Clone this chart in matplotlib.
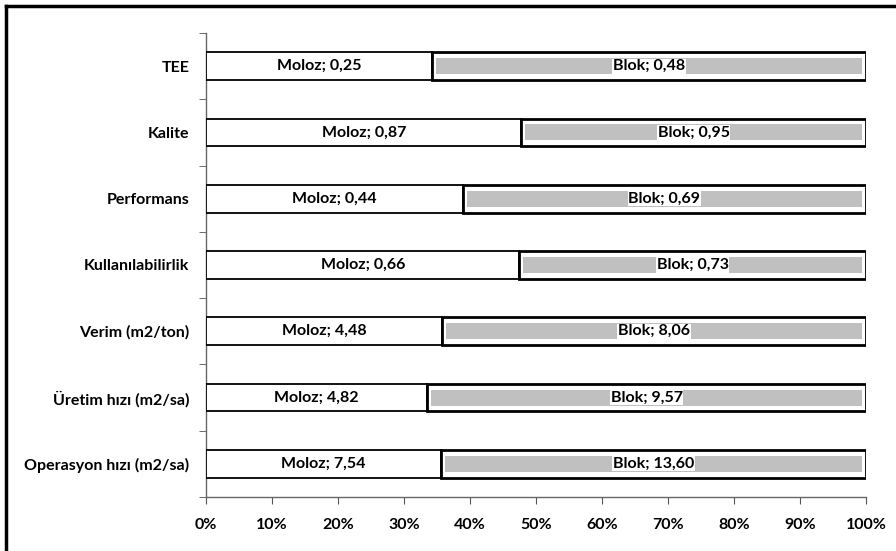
import matplotlib
matplotlib.use("Agg")
import matplotlib.pyplot as plt
from matplotlib.lines import Line2D
import numpy as np

categories = ["TEE", "Kalite", "Performans", "Kullanılabilirlik",
              "Verim (m2/ton)", "Üretim hızı (m2/sa)", "Operasyon hızı (m2/sa)"]
moloz = [0.25, 0.87, 0.44, 0.66, 4.48, 4.82, 7.54]
blok = [0.48, 0.95, 0.69, 0.73, 8.06, 9.57, 13.60]
xticks = [0, 10, 20, 30, 40, 50, 60, 70, 80, 90, 100]

plt.rcParams['font.family'] = ['Lato', 'DejaVu Sans']
plt.rcParams['font.weight'] = 'bold'

fig = plt.figure(figsize=(8.96, 5.51), dpi=100)
ax = fig.add_axes([206/896, 1-497/551, 660/896, (497-33)/551])

m = np.array(moloz)
b = np.array(blok)
tot = m + b
mf = m / tot * 100
bf = b / tot * 100
y = np.arange(len(categories))

ax.barh(y, mf, height=0.42, color='white', edgecolor='black', linewidth=1.3, zorder=3)
ax.barh(y, bf, left=mf, height=0.42, color='white', edgecolor='black', linewidth=2.0, zorder=3)
ax.barh(y, bf - 1.2, left=mf + 0.6, height=0.24, color='#c0c0c0', edgecolor='none', zorder=4)

def fmt(v):
    return f"{v:.2f}".replace('.', ',')

for i in range(len(categories)):
    ax.text(mf[i] / 2, y[i], f"Moloz; {fmt(m[i])}", ha='center', va='center',
            fontsize=11.5, fontweight='bold', zorder=5)
    ax.text(mf[i] + bf[i] / 2, y[i], f"Blok; {fmt(b[i])}", ha='center', va='center',
            fontsize=11.5, fontweight='bold', zorder=5,
            bbox=dict(facecolor='white', edgecolor='none', pad=0.5))

ax.set_xlim(0, 100)
ax.set_ylim(len(categories) - 0.5, -0.5)
ax.set_xticks(xticks)
ax.set_xticklabels([f"{t}%" for t in xticks], fontsize=11.5, fontweight='bold')
ax.set_yticks(y)
ax.set_yticklabels(categories, fontsize=11.5, fontweight='bold')
ax.set_yticks(np.arange(-0.5, len(categories) + 0.5, 1), minor=True)
ax.tick_params(axis='y', which='major', length=0, pad=12)
ax.tick_params(axis='y', which='minor', length=5, color='#555555', direction='out')
ax.tick_params(axis='x', length=5, color='#555555', pad=10)
for s in ['top', 'right']:
    ax.spines[s].set_visible(False)
for s in ['left', 'bottom']:
    ax.spines[s].set_color('#666666')
    ax.spines[s].set_linewidth(1.0)

fig.add_artist(Line2D([6/896, 6/896], [0, 1 - 6/551], transform=fig.transFigure,
                      color='black', linewidth=2.5))
fig.add_artist(Line2D([6/896, 1], [1 - 6/551, 1 - 6/551], transform=fig.transFigure,
                      color='black', linewidth=2.5))

fig.savefig("out.png", dpi=100)
